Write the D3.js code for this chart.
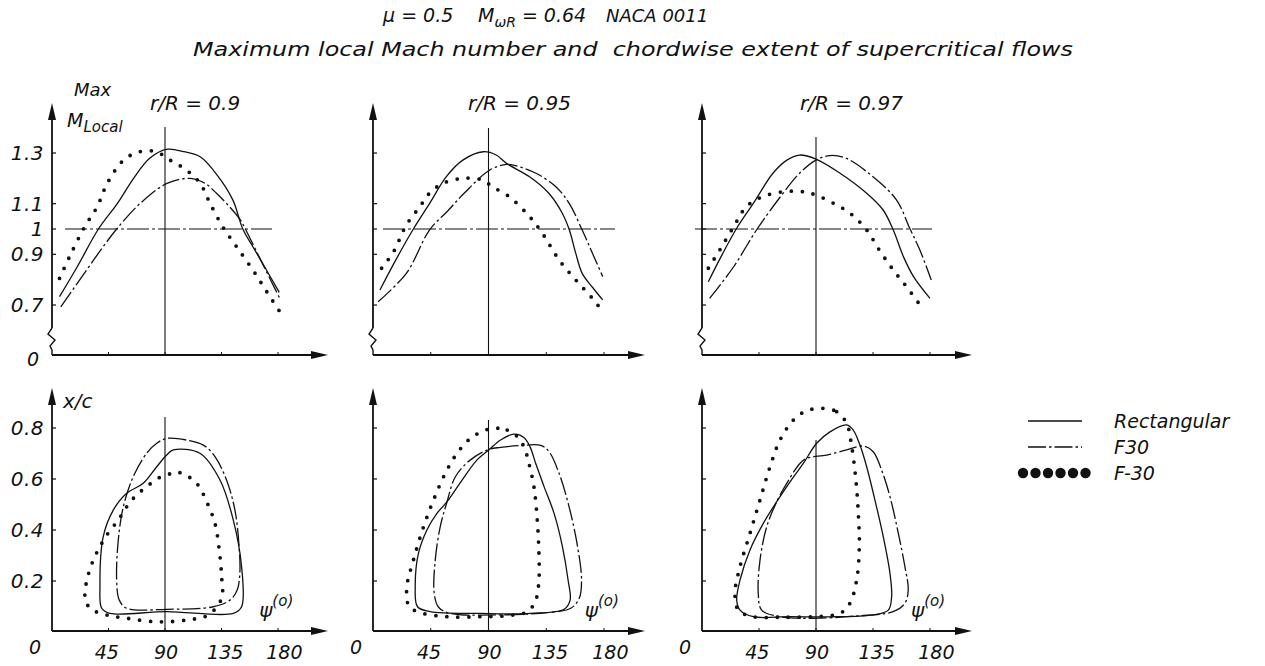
<!DOCTYPE html>
<html>
<head>
<meta charset="utf-8">
<script src="https://cdn.jsdelivr.net/npm/d3@7"></script>
<style>
  body { margin: 0; background: #fff; }
  text { font-family: "DejaVu Sans", "Liberation Sans", sans-serif; font-style: oblique; fill: #111; white-space: pre; }
</style>
</head>
<body>
<svg id="chart" width="1265" height="666"></svg>
<script>
// ---- data -------------------------------------------------------------
const radii = ["0.9", "0.95", "0.97"];
const psiTicks = [45, 90, 135, 180];
const machTicks = [0.7, 0.9, 1, 1.1, 1.3];
const machTickLabels = ["0.7", "0.9", "1", "1.1", "1.3"];
const extentTicks = [0.2, 0.4, 0.6, 0.8];
const seriesNames = ["Rectangular", "F30", "F-30"];

// Maximum local Mach number against azimuth, [psi (deg), M], one list per r/R
const machRect = [
  [[6,0.733],[20,0.85],[37,1.0],[52,1.1],[65,1.2],[78,1.28],[92,1.315],[105,1.305],[118,1.285],[132,1.21],[144,1.115],[152,1.0],[160,0.93],[170,0.845],[181,0.75]],
  [[5.4,0.759],[18,0.88],[31,0.996],[44,1.1],[57,1.206],[70,1.272],[86,1.305],[96,1.292],[104,1.259],[122,1.206],[137,1.141],[147.5,1.062],[153,0.996],[158,0.904],[163,0.825],[171,0.77],[179,0.72]],
  [[5,0.792],[16,0.9],[27.4,1.003],[40.5,1.101],[56,1.22],[67,1.272],[77,1.292],[90,1.276],[109,1.22],[130,1.141],[143,1.075],[151,0.996],[159,0.891],[167,0.812],[180,0.726]]
];
const machF30 = [
  [[7,0.693],[25,0.82],[40,0.925],[51.5,1.0],[70,1.1],[91.6,1.18],[110,1.2],[122,1.18],[131,1.141],[141,1.09],[150,1.036],[154,1.0],[165,0.89],[175,0.79],[182,0.72]],
  [[4,0.713],[26,0.825],[44,0.996],[58,1.07],[71,1.141],[91,1.233],[104,1.255],[111,1.25],[127,1.22],[142.5,1.167],[153,1.1],[163,0.996],[171,0.904],[179,0.812]],
  [[6,0.726],[25,0.851],[43,0.996],[62,1.128],[77,1.22],[90,1.272],[101,1.29],[114,1.279],[135,1.206],[153.5,1.115],[164,1.003],[172,0.917],[181,0.799]]
];
const machFm30 = [
  [[6,0.805],[14,0.891],[26,1.009],[36,1.088],[44,1.18],[57,1.272],[70,1.305],[83,1.305],[94,1.272],[107,1.233],[118,1.18],[126,1.1],[136,1.009],[147,0.93],[160,0.838],[172,0.745],[184,0.654]],
  [[6.7,0.845],[16,0.91],[26,1.016],[36.5,1.088],[44,1.141],[54.5,1.18],[70,1.2],[85.6,1.193],[93,1.167],[106,1.128],[122,1.049],[132,0.983],[145,0.878],[158,0.799],[171,0.726],[179,0.674]],
  [[5,0.845],[14,0.917],[25,1.009],[35,1.088],[48,1.128],[64,1.147],[80,1.147],[90,1.134],[104,1.101],[117,1.062],[130,0.996],[140,0.917],[151,0.838],[161.5,0.772],[175,0.68]]
];

// Chordwise extent of the supercritical region, closed boundaries [psi (deg), x/c]
const extentRect = [
  [[96.6,0.714],[117.8,0.701],[133.8,0.596],[144.4,0.439],[151,0.256],[151,0.099],[144.4,0.073],[91.3,0.08],[46.2,0.073],[39.6,0.093],[38.2,0.178],[40.8,0.374],[48.8,0.478],[59.5,0.544],[72.7,0.583],[83.4,0.648],[91.3,0.694]],
  [[109.8,0.776],[117.6,0.763],[122.3,0.727],[126.8,0.661],[133.3,0.57],[141.1,0.465],[147.6,0.335],[152,0.204],[153.6,0.125],[148.9,0.089],[122.8,0.073],[83.7,0.073],[44.6,0.08],[34.7,0.099],[32.9,0.178],[35.4,0.308],[42,0.4],[49.8,0.465],[57.7,0.511],[69.4,0.596],[81.1,0.675],[90.2,0.714],[99.4,0.753]],
  [[114.2,0.812],[119.4,0.792],[124.7,0.733],[130,0.648],[136.5,0.518],[143.1,0.374],[148.4,0.23],[149.7,0.138],[147.1,0.086],[135.2,0.067],[108.9,0.06],[69.5,0.06],[40.5,0.06],[30,0.086],[27.4,0.125],[30,0.204],[37.9,0.322],[48.4,0.426],[59,0.511],[69.5,0.589],[80,0.661],[90.5,0.74],[101,0.785]]
];
const extentF30 = [
  [[91.3,0.759],[109.9,0.75],[120.5,0.733],[129.8,0.688],[139,0.596],[145.7,0.478],[149,0.335],[149.6,0.23],[147.5,0.165],[141.7,0.125],[128.4,0.099],[91.3,0.089],[59.5,0.093],[53.6,0.125],[51.5,0.204],[52.8,0.361],[56.8,0.491],[64.7,0.609],[75.4,0.701],[83.4,0.74]],
  [[90.2,0.716],[99.4,0.724],[115,0.731],[130.7,0.732],[137.2,0.707],[145,0.622],[152.8,0.491],[159.4,0.335],[162.5,0.204],[160.7,0.132],[154.1,0.093],[135.9,0.076],[96.8,0.067],[60.3,0.073],[51.1,0.097],[47.7,0.152],[48.5,0.282],[52.4,0.413],[57.7,0.511],[64.2,0.609],[75.9,0.675]],
  [[127.3,0.729],[135.2,0.707],[141.8,0.635],[148.4,0.531],[155,0.387],[160.2,0.256],[162.8,0.165],[160.2,0.113],[150.9,0.08],[122.1,0.063],[87.8,0.054],[61.6,0.06],[47.1,0.086],[44.4,0.152],[45.8,0.282],[51.1,0.413],[59,0.511],[66.9,0.583],[77.3,0.661],[82.6,0.681],[98.4,0.694],[114.2,0.714]]
];
const extentFm30 = [
  [[94,0.62],[101.9,0.625],[115.2,0.583],[123.2,0.511],[129.8,0.426],[133.2,0.322],[135.1,0.217],[135.1,0.132],[124.5,0.067],[107.2,0.047],[83.4,0.04],[59.5,0.054],[43.5,0.067],[30.3,0.093],[26.3,0.138],[28.1,0.21],[32.9,0.282],[38.2,0.335],[45,0.39],[52.8,0.439],[59.5,0.491],[66.1,0.531],[75.4,0.57],[84.6,0.603]],
  [[96.8,0.799],[104.6,0.792],[111.1,0.773],[117.6,0.727],[121.5,0.661],[125.4,0.57],[128,0.439],[129.3,0.308],[129.3,0.204],[126.8,0.125],[120.3,0.08],[104.6,0.064],[83.7,0.06],[57.7,0.06],[34.2,0.08],[27.6,0.106],[26.4,0.178],[31.5,0.282],[39.4,0.413],[47.2,0.518],[56.3,0.622],[65.5,0.701],[75.9,0.759],[87.6,0.792]],
  [[95.7,0.877],[106.3,0.864],[114.2,0.818],[118.2,0.727],[121.5,0.596],[123.4,0.465],[124.2,0.335],[122.1,0.204],[116.8,0.113],[108.9,0.073],[87.8,0.06],[61.6,0.058],[40.5,0.06],[28.7,0.086],[26,0.152],[30,0.256],[37.9,0.387],[45.8,0.518],[53.7,0.648],[61.6,0.753],[72.1,0.831],[82.6,0.868]]
];

// ---- layout -----------------------------------------------------------
const svg = d3.select("#chart");
const ink = "#111";
const panelLeft = [52, 373, 702];
const panel180 = [278, 604, 930];
const arrowTipX = [328, 645, 972];
const refStart = [65, 383, 695];
const refEnd = [272, 615, 932];
const topAxisY = 355, topTipY = 103, breakY = 328;
const botAxisY = 631, botTipY = 388;
const vLineTop = [127, 128, 137];
const vLineBot = [417, 420, 440];

const yMach = d3.scaleLinear().domain([0.7, 1.3]).range([305, 153]);
const yExt = d3.scaleLinear().domain([0, 0.8]).range([632, 428]);

const seriesStyle = {
  "Rectangular": { width: 1.3, dash: null, cap: "butt" },
  "F30": { width: 1.3, dash: "18 3 2.5 3", cap: "butt" },
  "F-30": { width: 3.8, dash: "0 11", cap: "round" }
};

function styled(sel, name) {
  const s = seriesStyle[name];
  sel.attr("fill", "none").attr("stroke", ink)
     .attr("stroke-width", s.width).attr("stroke-linecap", s.cap);
  if (s.dash) sel.attr("stroke-dasharray", s.dash);
  return sel;
}

function arrowUp(g, x, tip) {
  g.append("path").attr("d", `M${x},${tip} L${x - 4},${tip + 17} L${x + 4},${tip + 17} Z`).attr("fill", ink);
}
function arrowRight(g, tip, y) {
  g.append("path").attr("d", `M${tip},${y} L${tip - 17},${y - 4} L${tip - 17},${y + 4} Z`).attr("fill", ink);
}

// ---- titles -----------------------------------------------------------
svg.append("text").attr("x", 383).attr("y", 22).attr("font-size", 19).text("\u03bc = 0.5");
const t1b = svg.append("text").attr("y", 22).attr("font-size", 19).attr("x", 478);
t1b.append("tspan").text("M");
t1b.append("tspan").attr("font-size", 14).attr("dy", 5).text("\u03c9R");
t1b.append("tspan").attr("dy", -5).text(" = 0.64");
svg.append("text").attr("x", 606).attr("y", 22).attr("font-size", 18).text("NACA 0011");

svg.append("text").attr("x", 193).attr("y", 56).attr("font-size", 19)
  .attr("textLength", 880).attr("lengthAdjust", "spacingAndGlyphs")
  .text("Maximum local Mach number and  chordwise extent of supercritical flows");

// ---- panels -----------------------------------------------------------
const rLabelX = [150, 468, 800];

radii.forEach((r, i) => {
  const x = d3.scaleLinear().domain([0, 180]).range([panelLeft[i], panel180[i]]);
  const x0 = panelLeft[i];
  const g = svg.append("g");

  // upper: maximum local Mach number
  g.append("line").attr("x1", x0).attr("x2", x0).attr("y1", topTipY + 10).attr("y2", breakY)
    .attr("stroke", ink).attr("stroke-width", 1.8);
  g.append("path")
    .attr("d", `M${x0},${breakY} L${x0 - 4},${breakY + 6} L${x0 + 3},${breakY + 12} L${x0 - 2},${breakY + 18} L${x0},${breakY + 22} L${x0},${topAxisY}`)
    .attr("fill", "none").attr("stroke", ink).attr("stroke-width", 1.4);
  arrowUp(g, x0, topTipY);
  g.append("line").attr("x1", x0).attr("x2", arrowTipX[i] - 10).attr("y1", topAxisY).attr("y2", topAxisY)
    .attr("stroke", ink).attr("stroke-width", 1.8);
  arrowRight(g, arrowTipX[i], topAxisY);

  g.selectAll(null).data(machTicks).join("line")
    .attr("x1", x0).attr("x2", x0 + 4).attr("y1", d => yMach(d)).attr("y2", d => yMach(d))
    .attr("stroke", ink).attr("stroke-width", 1.2);
  g.selectAll(null).data(psiTicks).join("line")
    .attr("x1", d => x(d)).attr("x2", d => x(d)).attr("y1", topAxisY).attr("y2", topAxisY - 3)
    .attr("stroke", ink).attr("stroke-width", 1);

  // sonic reference and psi = 90 markers
  g.append("line").attr("x1", refStart[i]).attr("x2", refEnd[i]).attr("y1", yMach(1)).attr("y2", yMach(1))
    .attr("stroke", ink).attr("stroke-width", 1.1).attr("stroke-dasharray", "22 3 3 3");
  g.append("line").attr("x1", x(90)).attr("x2", x(90)).attr("y1", vLineTop[i]).attr("y2", topAxisY)
    .attr("stroke", ink).attr("stroke-width", 1.1);

  const machLine = d3.line().x(d => x(d[0])).y(d => yMach(d[1])).curve(d3.curveCatmullRom.alpha(0.5));
  [[machRect, "Rectangular"], [machF30, "F30"], [machFm30, "F-30"]].forEach(([set, name]) => {
    styled(g.append("path").attr("d", machLine(set[i])), name);
  });

  g.append("text").attr("x", rLabelX[i]).attr("y", 110).attr("font-size", 20).text(`r/R = ${r}`);

  // lower: chordwise extent
  g.append("line").attr("x1", x0).attr("x2", x0).attr("y1", botTipY + 10).attr("y2", botAxisY)
    .attr("stroke", ink).attr("stroke-width", 1.8);
  arrowUp(g, x0, botTipY);
  g.append("line").attr("x1", x0).attr("x2", arrowTipX[i] - 10).attr("y1", botAxisY).attr("y2", botAxisY)
    .attr("stroke", ink).attr("stroke-width", 1.8);
  arrowRight(g, arrowTipX[i], botAxisY);

  g.selectAll(null).data(extentTicks).join("line")
    .attr("x1", x0).attr("x2", x0 + 4).attr("y1", d => yExt(d)).attr("y2", d => yExt(d))
    .attr("stroke", ink).attr("stroke-width", 1.2);
  g.selectAll(null).data(psiTicks).join("line")
    .attr("x1", d => x(d)).attr("x2", d => x(d)).attr("y1", botAxisY).attr("y2", botAxisY - 3)
    .attr("stroke", ink).attr("stroke-width", 1);

  g.append("line").attr("x1", x(90)).attr("x2", x(90)).attr("y1", vLineBot[i]).attr("y2", botAxisY)
    .attr("stroke", ink).attr("stroke-width", 1.1);

  const loop = d3.line().x(d => x(d[0])).y(d => yExt(d[1])).curve(d3.curveCatmullRomClosed.alpha(0.5));
  [[extentRect, "Rectangular"], [extentF30, "F30"], [extentFm30, "F-30"]].forEach(([set, name]) => {
    styled(g.append("path").attr("d", loop(set[i])), name);
  });

  // azimuth tick labels (hand-lettered row is spaced a little wider than the axis)
  g.selectAll(null).data(psiTicks).join("text")
    .attr("x", d => x(d) + 1 + (d - 90) * 0.06).attr("y", 659).attr("text-anchor", "middle").attr("font-size", 19)
    .text(d => d);
  g.append("text").attr("x", x0 - 17).attr("y", 654).attr("text-anchor", "middle").attr("font-size", 19).text("0");

  // psi axis name
  const ps = g.append("text").attr("x", x(165)).attr("y", 617).attr("font-size", 20);
  ps.append("tspan").text("\u03c8");
  ps.append("tspan").attr("font-size", 15).attr("dy", -11).text("(o)");
});

// value labels on the first panel only
const x0 = panelLeft[0];
svg.selectAll(null).data(machTicks).join("text")
  .attr("x", x0 - 8).attr("y", d => yMach(d) + 7).attr("text-anchor", "end").attr("font-size", 20)
  .attr("letter-spacing", 0.5)
  .text((d, k) => machTickLabels[k]);
svg.append("text").attr("x", x0 - 19).attr("y", 366).attr("text-anchor", "middle").attr("font-size", 19).text("0");
svg.selectAll(null).data(extentTicks).join("text")
  .attr("x", x0 - 8).attr("y", d => yExt(d) + 7).attr("text-anchor", "end").attr("font-size", 20)
  .attr("letter-spacing", 0.5)
  .text(d => d.toFixed(1));

svg.append("text").attr("x", 74).attr("y", 96).attr("font-size", 18).text("Max");
const ml = svg.append("text").attr("x", 67).attr("y", 127).attr("font-size", 19);
ml.append("tspan").text("M");
ml.append("tspan").attr("font-size", 15).attr("dy", 5).text("Local");
svg.append("text").attr("x", 63).attr("y", 408).attr("font-size", 20).text("x/c");

// ---- legend -----------------------------------------------------------
const legendY = [421, 447, 473];
const legend = svg.append("g");
seriesNames.forEach((name, k) => {
  const y = legendY[k];
  if (name === "F-30") {
    legend.selectAll(null).data(d3.range(6)).join("circle")
      .attr("cx", j => 1023 + j * 12.5).attr("cy", y).attr("r", 5.2).attr("fill", ink);
  } else {
    styled(legend.append("line").attr("x1", 1028).attr("x2", 1082).attr("y1", y).attr("y2", y), name);
  }
  legend.append("text").attr("x", 1114).attr("y", y + 7).attr("font-size", 19).text(name);
});
</script>
</body>
</html>
